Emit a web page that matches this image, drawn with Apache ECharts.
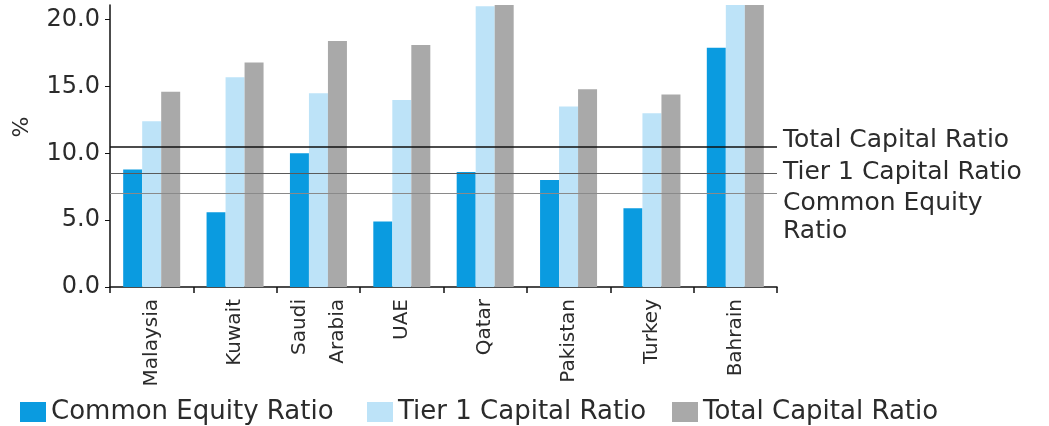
<!DOCTYPE html>
<html>
<head>
<meta charset="utf-8">
<script src="https://cdn.jsdelivr.net/npm/echarts@6/dist/echarts.min.js"></script>
<style>
  html, body { margin: 0; padding: 0; background: #ffffff; }
  #chart { width: 1049px; height: 426px; }
</style>
</head>
<body>
<div id="chart"></div>
<script>
// ---- data ----
const categories = ['Malaysia', 'Kuwait', 'Saudi\nArabia', 'UAE', 'Qatar', 'Pakistan', 'Turkey', 'Bahrain'];
const commonEquity = [8.8, 5.6, 10.0, 4.9, 8.6, 8.0, 5.9, 17.9];
const tier1Capital = [12.4, 15.7, 14.5, 14.0, 21.0, 13.5, 13.0, 22.0];
const totalCapital = [14.6, 16.8, 18.4, 18.1, 22.5, 14.8, 14.4, 23.0];
const seriesNames = ['Common Equity Ratio', 'Tier 1 Capital Ratio', 'Total Capital Ratio'];
const thresholdTotal = 10.5;
const thresholdTier1 = 8.5;
const thresholdCommon = 7.0;
const thresholdLabels = ['Total Capital Ratio', 'Tier 1 Capital Ratio', 'Common Equity\nRatio'];
const yTickLabels = ['0.0', '5.0', '10.0', '15.0', '20.0'];

const FONT = 'DejaVu Sans';
const TEXT = '#2b2b2b';
const colors = ['#0a9be0', '#bde3f8', '#a9a9a9'];
const GRID = { left: 110, right: 272, top: 5, bottom: 139 };

const chart = echarts.init(document.getElementById('chart'), null, { renderer: 'canvas' });

function legendAt(name, left) {
  return {
    data: [name],
    left: left,
    top: 394,
    icon: 'rect',
    itemWidth: 26,
    itemHeight: 20,
    itemGap: 0,
    selectedMode: false,
    textStyle: { fontFamily: FONT, fontSize: 26, color: TEXT }
  };
}

const option = {
  animation: false,
  backgroundColor: '#ffffff',
  color: colors,
  legend: [
    legendAt(seriesNames[0], 15),
    legendAt(seriesNames[1], 362),
    legendAt(seriesNames[2], 667)
  ],
  grid: { left: GRID.left, right: GRID.right, top: GRID.top, bottom: GRID.bottom, containLabel: false },
  xAxis: {
    type: 'category',
    data: categories.map(c => c.indexOf('\n') >= 0
      ? { value: c, textStyle: { lineHeight: 38 } }
      : c),
    axisLine: { lineStyle: { color: '#111', width: 1.5 } },
    axisTick: { show: true, length: 6, inside: false, lineStyle: { color: '#111', width: 1.5 } },
    axisLabel: {
      rotate: 90,
      margin: 12,
      fontFamily: FONT,
      fontSize: 20,
      color: TEXT,
      interval: 0
    }
  },
  yAxis: {
    type: 'value',
    min: 0,
    max: 21.1,
    interval: 5,
    name: '%',
    nameLocation: 'middle',
    nameGap: 77,
    nameTextStyle: { fontFamily: FONT, fontSize: 22, color: TEXT, padding: [0, 0, 0, 38] },
    axisLine: { show: true, lineStyle: { color: '#111', width: 1.5 } },
    axisTick: { show: true, length: 5, lineStyle: { color: '#111' } },
    splitLine: { show: false },
    axisLabel: {
      margin: 10,
      fontFamily: FONT,
      fontSize: 24,
      color: TEXT,
      showMaxLabel: false,
      formatter: function (v) {
        const i = yTickLabels.indexOf(v.toFixed(1));
        return i >= 0 ? yTickLabels[i] : '';
      }
    }
  },
  series: [
    {
      name: seriesNames[0],
      type: 'bar',
      data: commonEquity,
      barWidth: 19,
      barGap: '0%',
      clip: true,
      itemStyle: { color: colors[0] },
      markLine: {
        silent: true,
        symbol: 'none',
        animation: false,
        label: { show: false },
        data: [
          { yAxis: thresholdTotal, lineStyle: { color: '#111111', width: 1.5, type: 'solid' } },
          { yAxis: thresholdTier1, lineStyle: { color: '#5a5a5a', width: 1.2, type: 'solid' } },
          { yAxis: thresholdCommon, lineStyle: { color: '#8a8a8a', width: 1.2, type: 'solid' } }
        ]
      }
    },
    {
      name: seriesNames[1],
      type: 'bar',
      data: tier1Capital,
      barWidth: 19,
      barGap: '0%',
      clip: true,
      itemStyle: { color: colors[1] }
    },
    {
      name: seriesNames[2],
      type: 'bar',
      data: totalCapital,
      barWidth: 19,
      barGap: '0%',
      clip: true,
      itemStyle: { color: colors[2] }
    }
  ]
};

chart.setOption(option);

// Right-hand labels for the threshold lines, placed through the y-axis scale
const labelX = chart.getWidth() - GRID.right + 6;
const yTotal = chart.convertToPixel({ yAxisIndex: 0 }, thresholdTotal);
const yTier1 = chart.convertToPixel({ yAxisIndex: 0 }, thresholdTier1);
const yCommon = chart.convertToPixel({ yAxisIndex: 0 }, thresholdCommon);
const labelStyle = { fontFamily: FONT, fontSize: 25, lineHeight: 28, fill: TEXT, align: 'left' };
chart.setOption({
  graphic: [
    { type: 'text', silent: true, x: labelX, y: yTotal - 6,
      style: Object.assign({ text: thresholdLabels[0], verticalAlign: 'middle' }, labelStyle) },
    { type: 'text', silent: true, x: labelX, y: yTier1 - 1,
      style: Object.assign({ text: thresholdLabels[1], verticalAlign: 'middle' }, labelStyle) },
    { type: 'text', silent: true, x: labelX, y: yCommon - 4,
      style: Object.assign({ text: thresholdLabels[2], verticalAlign: 'top' }, labelStyle) }
  ]
});
</script>
</body>
</html>
